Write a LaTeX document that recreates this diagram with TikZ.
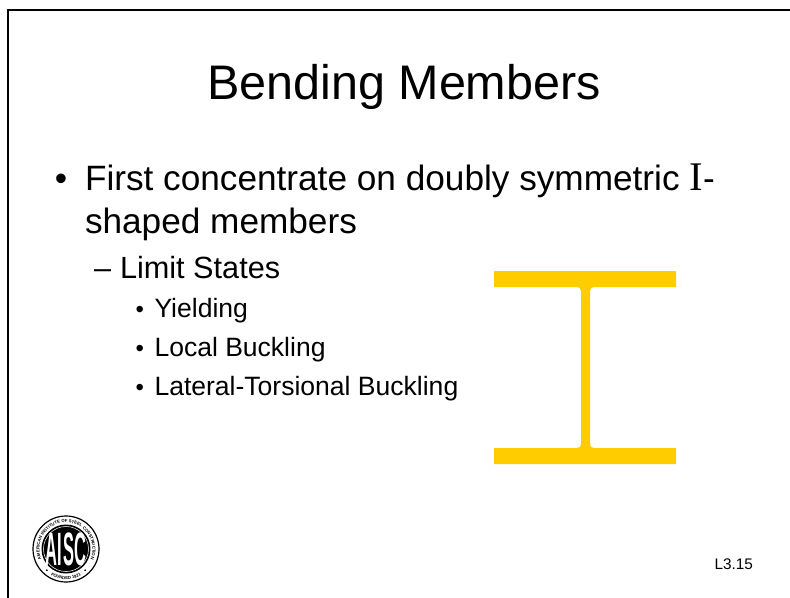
\documentclass[tikz,border=0pt]{standalone}
\usepackage{fontspec}
\usetikzlibrary{decorations.text}
\setmainfont{Liberation Sans}
\newfontfamily\serifpart{Liberation Serif}
\definecolor{steel}{RGB}{255,204,0}
\tikzset{
  txt/.style={anchor=base west,inner sep=0pt,outer sep=0pt,text=black},
  beam/.style={fill=steel,draw=none},
  big/.style={txt,font=\fontsize{26.4}{30}\selectfont},
  mid/.style={txt,font=\fontsize{23}{26}\selectfont},
  small/.style={txt,font=\fontsize{19.9}{24}\selectfont},
  smallbul/.style={txt,font=\fontsize{18}{22}\selectfont},
  logoletter/.style={inner sep=0pt,text=white,font=\bfseries\fontsize{13}{13}\selectfont,xscale=0.95,yscale=2.7},
}
\begin{document}
\begin{tikzpicture}[x=0.75pt,y=-0.75pt]
\useasboundingbox (0,0) rectangle (790,597);
\fill[white] (0,0) rectangle (790,597);
\draw[black,line width=1.5pt] (8,600) -- (8,10) -- (800,10);
\node[anchor=base,inner sep=0pt,font=\fontsize{36.4}{42}\selectfont] (title) at (404,99.5) {Bending Members};
\node[big] (b1) at (55,190) {•};
\node[big] (l1) at (85,190) {First concentrate on doubly symmetric {\serifpart\fontsize{30.5}{30}\selectfont I}-};
\node[big] (l2) at (85,233) {shaped members};
\node[mid] (d1) at (94,278.5) {–};
\node[mid] (l3) at (120,278.5) {Limit States};
\node[smallbul] (b2) at (135.5,317.5) {•};
\node[small] (l4) at (154.5,317.5) {Yielding};
\node[smallbul] (b3) at (135.5,356) {•};
\node[small] (l5) at (154.5,356) {Local Buckling};
\node[smallbul] (b4) at (135.5,395) {•};
\node[small] (l6) at (154.5,395) {Lateral-Torsional Buckling};
\node[txt,font=\fontsize{11.5}{14}\selectfont] (pg) at (714.5,569.5) {L3.15};
\fill[beam] (494,271) -- (676,271) -- (676,287) -- (594,287)
  .. controls (591.5,287) and (590,288.5) .. (590,291) -- (590,444)
  .. controls (590,446.5) and (591.5,448) .. (594,448) -- (676,448) -- (676,464) -- (494,464) -- (494,448) -- (577,448)
  .. controls (579.5,448) and (581,446.5) .. (581,444) -- (581,291)
  .. controls (581,288.5) and (579.5,287) .. (577,287) -- (494,287) -- cycle;
% AISC seal
\begin{scope}[shift={(66,549)},x=0.75pt,y=0.75pt]
\draw[black,line width=0.9pt,fill=white] (0,0) circle [radius=33];
\fill[black] (0,0) circle [radius=24.5];
\draw[white,line width=0.4pt] (0,0) circle [radius=22.5];
\node[logoletter] (la) at (-15,0) {A};
\node[logoletter] (li) at (-6.5,0) {I};
\node[logoletter] (ls) at (2.5,0) {S};
\node[logoletter] (lc) at (14.5,0) {C};
\path[decorate,decoration={text along path,text align=center,
   text={|\bfseries\fontsize{3.2}{4}\selectfont|AMERICAN INSTITUTE OF STEEL CONSTRUCTION}}]
   (215:26.5) arc[start angle=215,end angle=-35,radius=26.5];
\path[decorate,decoration={text along path,text align=center,
   text={|\bfseries\fontsize{3.2}{4}\selectfont|FOUNDED 1921}}]
   (240:30.5) arc[start angle=240,end angle=300,radius=30.5];
\fill[black] (228:28.5) circle [radius=1];
\fill[black] (-48:28.5) circle [radius=1];
\end{scope}
\end{tikzpicture}
\end{document}
